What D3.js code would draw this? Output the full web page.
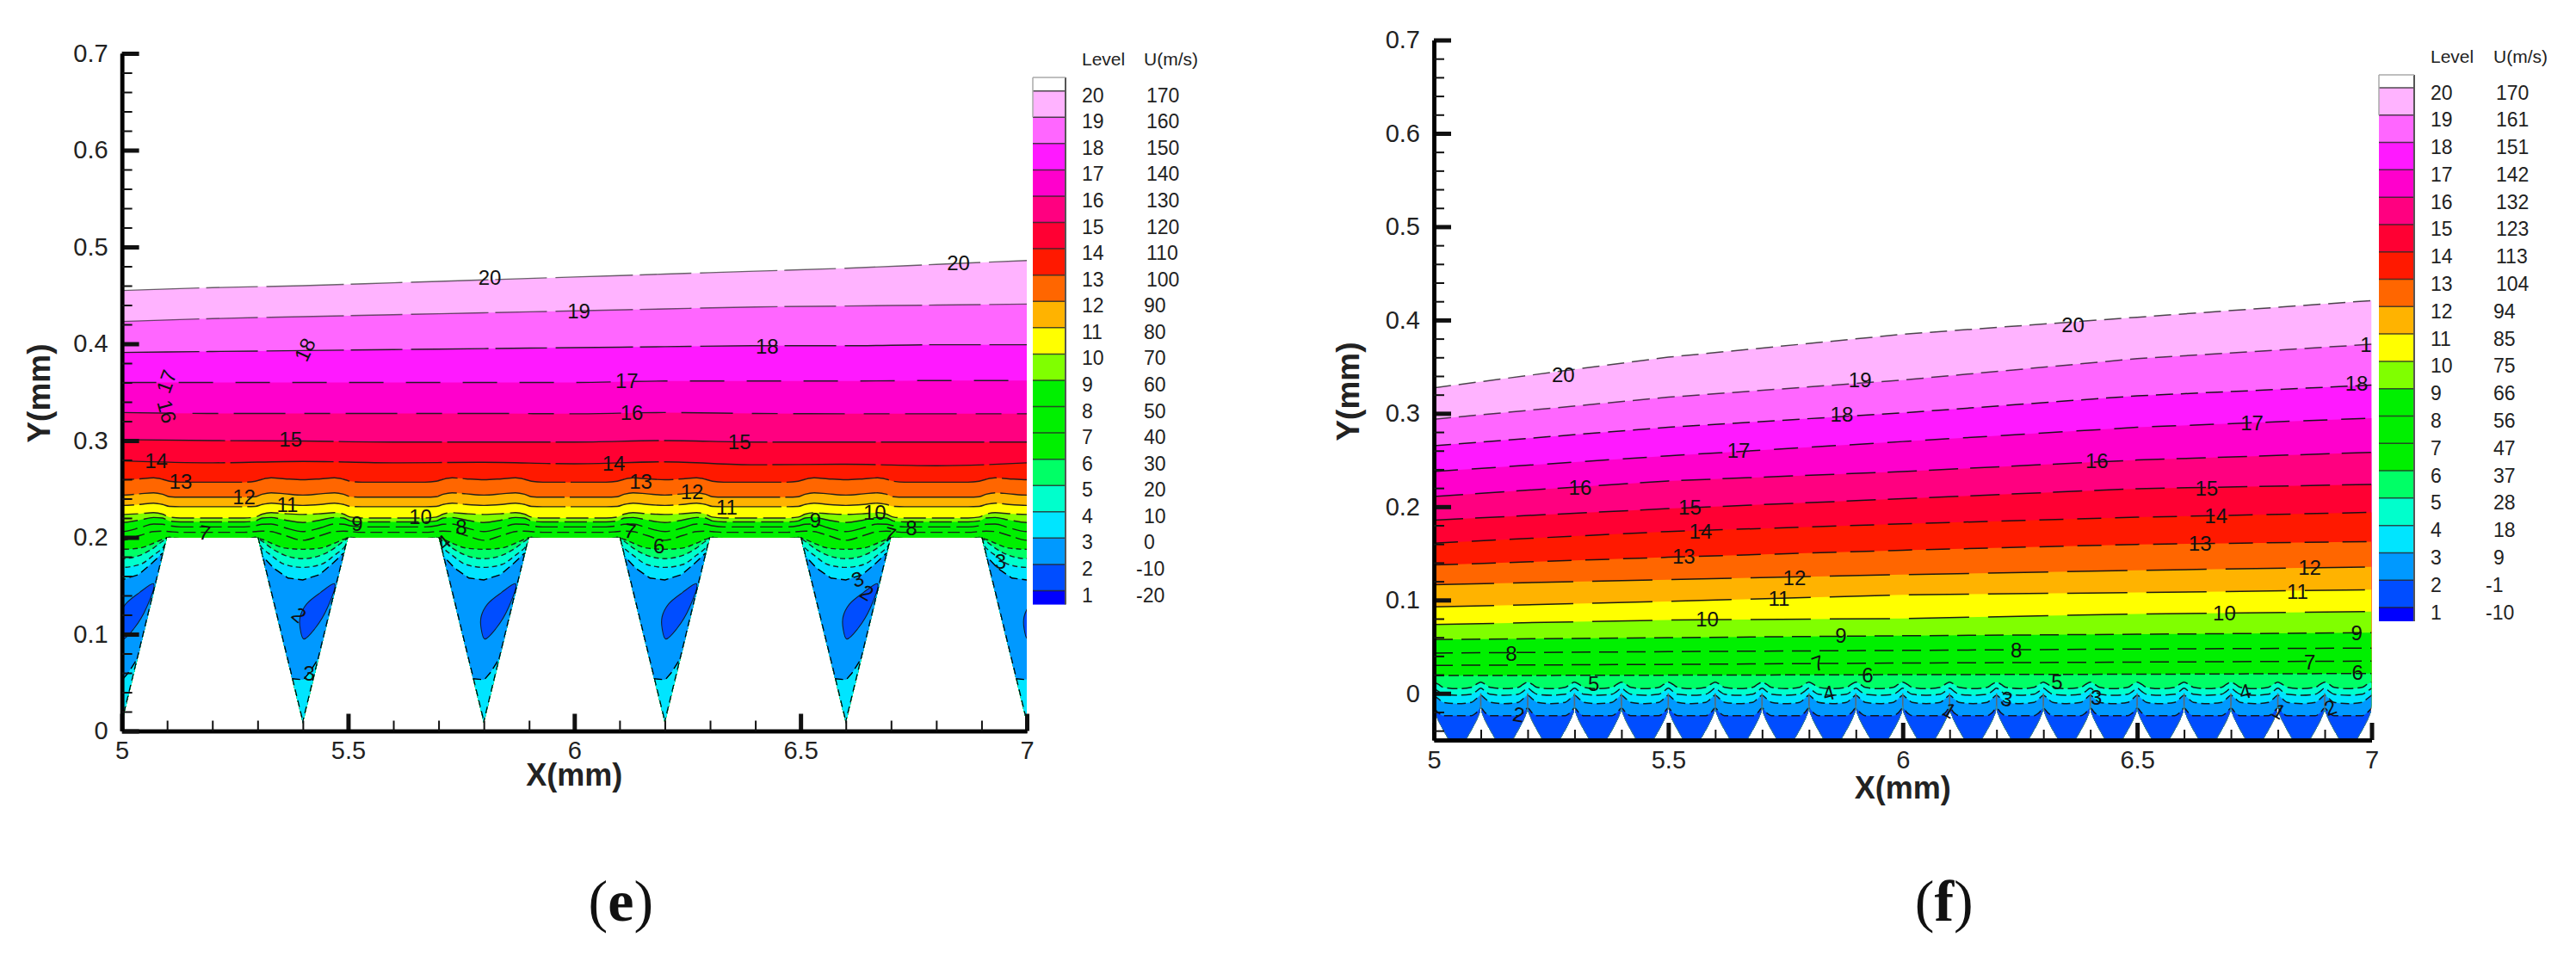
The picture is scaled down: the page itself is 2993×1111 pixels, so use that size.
<!DOCTYPE html>
<html>
<head>
<meta charset="utf-8">
<script src="https://cdn.jsdelivr.net/npm/d3@7"></script>
<style>
  body { margin: 0; background: #fff; }
  text { font-family: "Liberation Sans", Arial, sans-serif; }
</style>
</head>
<body>
<div id="chart_area"></div>
<script>
// contour levels, top of legend first
var levels = [20, 19, 18, 17, 16, 15, 14, 13, 12, 11, 10, 9, 8, 7, 6, 5, 4, 3, 2, 1];
var leftValues = [170, 160, 150, 140, 130, 120, 110, 100, 90, 80, 70, 60, 50, 40, 30, 20, 10, 0, -10, -20];
var rightValues = [170, 161, 151, 142, 132, 123, 113, 104, 94, 85, 75, 66, 56, 47, 37, 28, 18, 9, -1, -10];

// axis ticks
var xTicks = [5, 5.5, 6, 6.5, 7];
var xMinor = [5.1, 5.2, 5.3, 5.4, 5.6, 5.7, 5.8, 5.9, 6.1, 6.2, 6.3, 6.4, 6.6, 6.7, 6.8, 6.9];
var yTicks = [0, 0.1, 0.2, 0.3, 0.4, 0.5, 0.6, 0.7];
var yMinor = [0.02, 0.04, 0.06, 0.08, 0.12, 0.14, 0.16, 0.18, 0.22, 0.24, 0.26, 0.28, 0.32, 0.34, 0.36, 0.38,
    0.42, 0.44, 0.46, 0.48, 0.52, 0.54, 0.56, 0.58, 0.62, 0.64, 0.66, 0.68];
var yMinorBelow = [-0.02, -0.04];

// left panel (e): smooth upper contours, y(mm) read along leftUpperX
var leftUpperX = [5, 5.2, 5.4, 5.6, 5.8, 6, 6.2, 6.4, 6.6, 6.8, 7];
var leftLevel20 = [.455, .458, .460, .463, .466, .469, .472, .475, .478, .482, .486];
var leftLevel19 = [.423, .426, .428, .430, .432, .434, .436, .438, .439, .440, .441];
var leftLevel18 = [.391, .392, .393, .394, .395, .396, .397, .398, .398, .399, .399];
var leftLevel17 = [.360, .360, .360, .360, .360, .360, .3615, .3615, .3615, .362, .362];
var leftLevel16 = [.329, .328, .328, .328, .328, .3277, .329, .328, .3277, .3277, .3277];
var leftLevel15 = [.301, .300, .2995, .2985, .2985, .2985, .300, .2985, .2985, .2985, .2985];
var leftLevel14 = [.279, .277, .2785, .277, .2775, .276, .278, .275, .2755, .274, .277];

// left panel: contours that follow the grooves, y(mm) read against distance from groove centre
var grooveCentres = [5, 5.4, 5.8, 6.2, 6.6, 7];
var grooveDist = [0, .04, .07, .09, .105, .13, .2];
var leftLevel13 = [.2595, .2605, .2615, .260, .258, .257, .257];
var leftLevel12 = [.2437, .245, .246, .2445, .242, .2415, .2415];
var leftLevel11 = [.233, .234, .2354, .234, .232, .2317, .2317];
var leftLevel10 = [.2237, .2245, .2255, .224, .221, .220, .220];
var leftLevel9 = [.2154, .218, .2206, .220, .217, .216, .216];
var leftLevel8 = [.206, .210, .2138, .2135, .212, .2108, .2108];
var leftLevel7 = [.197, .202, .206, .2065, .206, .2052, .2052];
var leftLevel6 = [.1877, .189, .194, .198, .200, .199, .199];
var leftLevel5 = [.178, .1815, .189, .196, .200, .198, .198];
var leftLevel4 = [.169, .172, .1815, .189, .197, .197, .197];

// left panel: one groove, x is offset from its centre
var grooveWallX = [-0.1, 0, 0.1];
var grooveWallY = [.2, .008, .2];
var leftLevel3X = [-.13, -.091, -.064, -.033, 0, .037, .068, .088, .13, .13, .033, .014, .001, -.026, -.13];
var leftLevel3Y = [.19, .1815, .168, .158, .156, .1615, .174, .183, .19, .09, .074, .06, .053, .054, .06];
var leftLevel2X = [.07, .055, .027, .002, -.006, -.006, .008, .039];
var leftLevel2Y = [.152, .128, .106, .095, .106, .118, .131, .143];

// right panel (f): sloping contours, y(mm) read along rightUpperX
var rightUpperX = [5, 5.5, 6, 6.5, 7];
var rightLevel20 = [.3274, .3602, .3847, .403, .4208];
var rightLevel19 = [.2937, .3173, .3357, .3586, .374];
var rightLevel18 = [.2652, .2851, .3005, .3188, .3302];
var rightLevel17 = [.2377, .2545, .2698, .2851, .2949];
var rightLevel16 = [.211, .2276, .2377, .25, .2582];
var rightLevel15 = [.1856, .1979, .2086, .2193, .2239];
var rightLevel14 = [.161, .1734, .1816, .1887, .1939];
var rightLevel13 = [.1375, .1458, .1534, .1596, .1626];
var rightLevel12 = [.1164, .1218, .1272, .1318, .1355];
var rightLevel11 = [.0926, .0985, .1056, .108, .111];
var rightLevel10 = [.0738, .0785, .0802, .085, .0877];
var rightLevel9 = [.0577, .0597, .0617, .0633, .065];
var rightLevel8 = [.0432, .0447, .046, .0475, .0485];
var rightLevel7 = [.030, .031, .0325, .0335, .0346];
var rightLevel6 = [.019, .0195, .020, .0205, .0213];

// right panel: contours that follow the scallops
var scallopCentres = [5.05, 5.15, 5.25, 5.35, 5.45, 5.55, 5.65, 5.75, 5.85, 5.95,
    6.05, 6.15, 6.25, 6.35, 6.45, 6.55, 6.65, 6.75, 6.85, 6.95];
var scallopDist = [0, .03, .04, .05];
var rightLevel5 = [.005, .0065, .0095, .012];
var rightLevel4 = [-.002, -.001, .002, .0055];
var rightLevel3 = [-.011, -.0096, -.006, -.002];
var rightLevel2 = [-.024, -.024, -.021, -.016];
var scallopWallX = [-.05, -.05, -.0485, -.042, -.034, -.026, -.018, .018, .026, .034, .042, .0485, .05, .05];
var scallopWallY = [0, -.012, -.02, -.028, -.036, -.043, -.05, -.05, -.043, -.036, -.028, -.02, -.012, 0];

// contour labels: text, x(mm), y(mm), optional rotation
var leftLabels = [
    ["20", 5.813, .469], ["20", 6.849, .4836], ["19", 6.01, .434], ["18", 5.404, .394, -65], ["18", 6.426, .3975],
    ["17", 5.098, .361, -70], ["17", 6.116, .362], ["16", 5.1, .33, 75], ["16", 6.127, .329],
    ["15", 5.373, .3015], ["15", 6.365, .2985], ["14", 5.076, .279], ["14", 6.087, .2763],
    ["13", 5.13, .258], ["13", 6.147, .258], ["12", 5.27, .242], ["12", 6.26, .247],
    ["11", 5.366, .234], ["11", 6.337, .231], ["10", 5.66, .2215], ["10", 6.664, .2255],
    ["9", 5.52, .2145], ["9", 6.533, .2175], ["8", 5.75, .211], ["8", 6.745, .21],
    ["7", 5.183, .205, 10], ["7", 6.123, .2068, 10], ["7", 6.698, .203, 15], ["6", 6.187, .191],
    ["4", 5.711, .195, -40], ["3", 5.414, .06], ["3", 6.626, .157, -20], ["3", 6.942, .175],
    ["2", 5.392, .12, 40], ["2", 6.647, .143, 30]
];
var rightLabels = [
    ["20", 5.276, .3418], ["20", 6.363, .3954], ["19", 5.909, .3357], ["18", 5.87, .2989], ["18", 6.968, .3326],
    ["1", 6.988, .374], ["17", 5.65, .2606], ["17", 6.745, .2897], ["16", 5.312, .2208], ["16", 6.414, .249],
    ["15", 5.546, .1994], ["15", 6.648, .2202], ["14", 5.569, .1734], ["14", 6.668, .1902],
    ["13", 5.533, .1467], ["13", 6.634, .1605], ["12", 5.769, .1243], ["12", 6.868, .1351],
    ["11", 5.736, .1015], ["11", 6.842, .1093], ["10", 5.583, .0793], ["10", 6.686, .0861],
    ["9", 5.868, .0623], ["9", 6.968, .0648], ["8", 5.165, .0432], ["8", 6.242, .0463],
    ["7", 5.819, .0324, -20], ["7", 6.868, .0336], ["6", 5.925, .02], ["6", 6.97, .0222],
    ["5", 5.341, .0105], ["5", 6.329, .012], ["4", 5.842, .0006, -15], ["4", 6.73, .0022, -15],
    ["3", 6.222, -.0056, 10], ["3", 6.413, -.004], ["2", 5.181, -.0225, 10],
    ["1", 6.1, -.018, 30], ["1", 6.803, -.019, 30], ["2", 6.912, -.015, -20]
];

// flood colour of the band just below each level
var bandColor = d3.scaleOrdinal()
    .domain(levels)
    .range(["#ffb3ff", "#ff66ff", "#ff19ff", "#ff00cc", "#ff0080", "#ff0033", "#ff1900", "#ff6600", "#ffb300", "#ffff00",
        "#80ff00", "#00f000", "#00f000", "#00f000", "#00ff66", "#00ffcc", "#00e5ff", "#0099ff", "#004dff", "#0000ff"]);

var svg = d3.select("#chart_area")
    .append("svg")
    .attr("width", 2993)
    .attr("height", 1111);

// helpers: turn the read arrays into [x, y] point lists
function zipPoints(xs, ys) {
    return xs.map(function (x, i) { return [x, ys[i]]; });
}
// a half profile around every centre, mirrored
function periodic(centres, dist, ys) {
    var pts = [];
    centres.forEach(function (c) {
        for (var i = dist.length - 1; i > 0; i--) pts.push([c - dist[i], ys[i]]);
        for (var j = 0; j < dist.length; j++) pts.push([c + dist[j], ys[j]]);
    });
    return pts;
}

function drawAxes(g, x, y, belowTicks, cfg) {
    var h = y.range()[0];
    var style = function (sel, major) {
        sel.select(".domain").attr("stroke", "#000").attr("stroke-width", 4.5);
        sel.selectAll(".tick line").attr("stroke", "#111").attr("stroke-width", major ? 5 : 2);
        sel.selectAll("text").attr("font-size", 29).attr("fill", "#222");
    };
    var b = g.append("g").attr("transform", "translate(0," + h + ")");
    b.call(d3.axisBottom(x).tickValues(xTicks).tickSize(-20).tickSizeOuter(0).tickPadding(-4).tickFormat(function (d) { return d; }))
        .call(style, true);
    b.selectAll(".tick text").attr("y", 12).attr("dy", "0.71em");
    var bm = g.append("g").attr("transform", "translate(0," + h + ")");
    bm.call(d3.axisBottom(x).tickValues(xMinor).tickSize(-12).tickSizeOuter(0).tickFormat(""))
        .call(style, false);
    var l = g.append("g").attr("transform", "translate(" + x(5) + ",0)");
    l.call(d3.axisLeft(y).tickValues(yTicks).tickSize(-20).tickSizeOuter(0).tickPadding(16).tickFormat(function (d) { return d; }))
        .call(style, true);
    var lm = g.append("g").attr("transform", "translate(" + x(5) + ",0)");
    lm.call(d3.axisLeft(y).tickValues(yMinor.concat(belowTicks)).tickSize(-12).tickSizeOuter(0).tickFormat(""))
        .call(style, false);
    g.append("text").attr("x", x(6)).attr("y", cfg.xTitleY)
        .attr("text-anchor", "middle").attr("font-size", 36).attr("font-weight", "bold").attr("fill", "#222")
        .text("X(mm)");
    g.append("text")
        .attr("transform", "translate(" + cfg.yTitleX + "," + cfg.yTitleY + ")rotate(-90)")
        .attr("text-anchor", "middle").attr("font-size", 37).attr("font-weight", "bold").attr("fill", "#222")
        .text("Y(mm)");
}

function drawLegend(g, yLeg, cfg, values) {
    // white cap above level 20, then one band per level
    g.append("rect").attr("x", cfg.x0).attr("width", cfg.x1 - cfg.x0)
        .attr("y", cfg.top).attr("height", yLeg(20) - cfg.top).attr("fill", "#fff");
    g.selectAll("rect.band").data(levels).enter().append("rect")
        .attr("class", "band")
        .attr("x", cfg.x0).attr("width", cfg.x1 - cfg.x0)
        .attr("y", function (d) { return yLeg(d); })
        .attr("height", function (d) { return (d === 1 ? cfg.bottom : yLeg(d - 1)) - yLeg(d); })
        .attr("fill", function (d) { return bandColor(d); });
    g.selectAll("line.lev").data(levels).enter().append("line")
        .attr("class", "lev")
        .attr("x1", cfg.x0).attr("x2", cfg.x1)
        .attr("y1", function (d) { return yLeg(d); })
        .attr("y2", function (d) { return yLeg(d); })
        .attr("stroke", "#222")
        .attr("stroke-opacity", 0.8)
        .attr("stroke-width", 1.5);
    g.append("line").attr("x1", cfg.x1).attr("x2", cfg.x1).attr("y1", cfg.top).attr("y2", cfg.bottom)
        .attr("stroke", "#555").attr("stroke-width", 2);
    g.append("line").attr("x1", cfg.x0).attr("x2", cfg.x0).attr("y1", cfg.top).attr("y2", yLeg(19))
        .attr("stroke", "#aaa").attr("stroke-width", 1.5);
    g.append("line").attr("x1", cfg.x0).attr("x2", cfg.x1).attr("y1", cfg.top).attr("y2", cfg.top)
        .attr("stroke", "#aaa").attr("stroke-width", 1.5);

    g.append("text").attr("x", cfg.textX).attr("y", cfg.headY).attr("font-size", 21).attr("fill", "#222").text("Level");
    g.append("text").attr("x", cfg.valX).attr("y", cfg.headY).attr("font-size", 21).attr("fill", "#222").text("U(m/s)");

    g.selectAll("text.lev").data(levels).enter().append("text")
        .attr("class", "lev")
        .attr("x", cfg.textX)
        .attr("y", function (d) { return yLeg(d) + cfg.textShift; })
        .attr("font-size", 23).attr("fill", "#222")
        .text(function (d) { return d; });
    g.selectAll("text.val").data(values).enter().append("text")
        .attr("class", "val")
        .attr("x", function (d) { return cfg.valX + (d < 0 ? cfg.negShift : (d >= 100 ? 3 : 0)); })
        .attr("y", function (d, i) { return yLeg(levels[i]) + cfg.textShift; })
        .attr("font-size", 23).attr("fill", "#222")
        .text(function (d) { return d; });
}

function drawContourLabels(g, x, y, labels) {
    g.selectAll("text.clab").data(labels).enter().append("text")
        .attr("class", "clab")
        .attr("transform", function (d) {
            return "translate(" + x(d[1]) + "," + y(d[2]) + ")rotate(" + (d[3] || 0) + ")";
        })
        .attr("text-anchor", "middle")
        .attr("dy", "0.36em")
        .attr("font-size", 24)
        .attr("fill", "#111")
        .text(function (d) { return d[0]; });
}

// left panel -------------------------------------------------------------
function drawLeft() {
    var g = svg.append("g");
    var x = d3.scaleLinear().domain([5, 7]).range([141.6, 1193]);
    var y = d3.scaleLinear().domain([0, 0.7]).range([849.5, 62]);
    var line = d3.line().x(function (d) { return x(d[0]); }).y(function (d) { return y(d[1]); });
    var curve = line.curve(d3.curveMonotoneX);
    var area = d3.area().x(function (d) { return x(d[0]); }).y0(y(-0.05)).y1(function (d) { return y(d[1]); }).curve(d3.curveMonotoneX);

    // fluid region: everything above the toothed wall
    var wall = [];
    grooveCentres.forEach(function (c) {
        zipPoints(grooveWallX, grooveWallY).forEach(function (p) {
            var px = c + p[0];
            if (px >= 5 && px <= 7) wall.push([px, p[1]]);
        });
    });
    var clipPts = wall.concat([[7, 0.7], [5, 0.7]]);
    svg.append("clipPath").attr("id", "clipLeft").append("path")
        .attr("d", d3.line().x(function (d) { return x(d[0]); }).y(function (d) { return y(d[1]); })(clipPts) + "Z");

    var body = g.append("g").attr("clip-path", "url(#clipLeft)");
    var upper = [leftLevel20, leftLevel19, leftLevel18, leftLevel17, leftLevel16, leftLevel15, leftLevel14]
        .map(function (ys) { return zipPoints(leftUpperX, ys); });
    var lower = [leftLevel13, leftLevel12, leftLevel11, leftLevel10, leftLevel9, leftLevel8, leftLevel7, leftLevel6, leftLevel5, leftLevel4]
        .map(function (ys) { return periodic(grooveCentres, grooveDist, ys); });
    var contours = upper.concat(lower);

    // painter's order, highest level first
    body.selectAll("path.band").data(contours).enter().append("path")
        .attr("class", "band")
        .attr("d", function (d) { return area(d); })
        .attr("fill", function (d, i) { return bandColor(levels[i]); });

    var dashFor = function (i) {
        var lev = levels[i];
        if (lev >= 18) return "90 8 60 10";
        if (lev === 17) return "40 26";
        if (lev === 16) return "60 22 30 18";
        if (lev >= 11) return "120 6";
        if (lev >= 8) return "26 7";
        if (lev === 7) return "14 6";
        return "6 4";
    };
    // level 3 closed patch and level 2 island sit inside each groove
    var closedLine = d3.line().x(function (d) { return x(d[0]); }).y(function (d) { return y(d[1]); });
    var level3 = zipPoints(leftLevel3X, leftLevel3Y);
    var level2 = zipPoints(leftLevel2X, leftLevel2Y);
    grooveCentres.forEach(function (c) {
        body.append("path")
            .attr("d", closedLine.curve(d3.curveLinearClosed)(level3.map(function (p) { return [c + p[0], p[1]]; })))
            .attr("fill", bandColor(3)).attr("stroke", "#000").attr("stroke-width", 1.4).attr("stroke-dasharray", "10 5");
        body.append("path")
            .attr("d", closedLine.curve(d3.curveCatmullRomClosed)(level2.map(function (p) { return [c + p[0], p[1]]; })))
            .attr("fill", bandColor(2)).attr("stroke", "#123").attr("stroke-width", 1.1);
    });

    body.selectAll("path.cont").data(contours).enter().append("path")
        .attr("class", "cont")
        .attr("d", function (d) { return curve(d); })
        .attr("fill", "none")
        .attr("stroke", "#1a1a1a")
        .attr("stroke-width", 1.4)
        .attr("stroke-opacity", function (d, i) { return levels[i] >= 19 ? 0.65 : 0.95; })
        .attr("stroke-dasharray", function (d, i) { return dashFor(i); });

    // dashed outline of the grooves
    var wallLine = d3.line().x(function (d) { return x(d[0]); }).y(function (d) { return y(d[1]); });
    grooveCentres.forEach(function (c) {
        body.append("path")
            .attr("d", wallLine(zipPoints(grooveWallX, grooveWallY).map(function (p) { return [c + p[0], p[1]]; })))
            .attr("fill", "none").attr("stroke", "#000").attr("stroke-width", 2.4).attr("stroke-dasharray", "8 5");
    });

    drawContourLabels(g, x, y, leftLabels);
    drawAxes(g, x, y, [], { xTitleY: 913, yTitleX: 58, yTitleY: 457 });

    var yLeg = d3.scaleLinear().domain([20, 1]).range([105.7, 686.5]);
    drawLegend(g, yLeg, { x0: 1200, x1: 1238, top: 90, bottom: 702.6, textX: 1257, valX: 1329, textShift: 13, negShift: -9, headY: 76 }, leftValues);

    g.append("text").attr("x", x(6) + 54).attr("y", 1070).attr("text-anchor", "middle")
        .attr("font-size", 68).style("font-family", "'Liberation Serif', serif").attr("fill", "#111")
        .html('(<tspan font-weight="bold">e</tspan>)');
}

// right panel ------------------------------------------------------------
function drawRight() {
    var g = svg.append("g");
    var x = d3.scaleLinear().domain([5, 7]).range([1666, 2755.5]);
    var y = d3.scaleLinear().domain([-0.05, 0.7]).range([860, 46.5]);
    var line = d3.line().x(function (d) { return x(d[0]); }).y(function (d) { return y(d[1]); });
    var curve = line.curve(d3.curveMonotoneX);
    var area = d3.area().x(function (d) { return x(d[0]); }).y0(y(-0.06)).y1(function (d) { return y(d[1]); }).curve(d3.curveMonotoneX);

    var wall = [];
    var scallopWall = zipPoints(scallopWallX, scallopWallY);
    scallopCentres.forEach(function (c) {
        scallopWall.forEach(function (p) { wall.push([c + p[0], p[1]]); });
    });
    svg.append("clipPath").attr("id", "clipRight").append("path")
        .attr("d", d3.line().x(function (d) { return x(d[0]); }).y(function (d) { return y(d[1]); })(wall.concat([[7, 0.7], [5, 0.7]])) + "Z");

    var body = g.append("g").attr("clip-path", "url(#clipRight)");
    var upper = [rightLevel20, rightLevel19, rightLevel18, rightLevel17, rightLevel16, rightLevel15, rightLevel14, rightLevel13,
        rightLevel12, rightLevel11, rightLevel10, rightLevel9, rightLevel8, rightLevel7, rightLevel6]
        .map(function (ys) { return zipPoints(rightUpperX, ys); });
    var lower = [rightLevel5, rightLevel4, rightLevel3, rightLevel2]
        .map(function (ys) { return periodic(scallopCentres, scallopDist, ys); });
    var contours = upper.concat(lower);

    // straight segments for the long sloping contours, they are nearly straight in the figure
    var straight = d3.line().x(function (d) { return x(d[0]); }).y(function (d) { return y(d[1]); });
    var areaStraight = d3.area().x(function (d) { return x(d[0]); }).y0(y(-0.06)).y1(function (d) { return y(d[1]); });

    body.selectAll("path.band").data(contours).enter().append("path")
        .attr("class", "band")
        .attr("d", function (d, i) { return i < upper.length ? areaStraight(d) : area(d); })
        .attr("fill", function (d, i) { return bandColor(levels[i]); });

    var dashFor = function (i) {
        var lev = levels[i];
        if (lev >= 18) return "20 9";
        if (lev === 17 || lev === 14 || lev === 13) return "28 16";
        if (lev === 16 || lev === 15) return "34 14";
        if (lev >= 10) return "70 22";
        if (lev >= 7) return "22 10";
        if (lev >= 4) return "12 5";
        return "10 5";
    };
    body.selectAll("path.cont").data(contours).enter().append("path")
        .attr("class", "cont")
        .attr("d", function (d, i) { return i < upper.length ? straight(d) : curve(d); })
        .attr("fill", "none")
        .attr("stroke", "#111")
        .attr("stroke-width", 1.5)
        .attr("stroke-opacity", function (d, i) { return levels[i] >= 19 ? 0.75 : 0.95; })
        .attr("stroke-dasharray", function (d, i) { return dashFor(i); });

    var wallLine = d3.line().x(function (d) { return x(d[0]); }).y(function (d) { return y(d[1]); });
    scallopCentres.forEach(function (c) {
        body.append("path")
            .attr("d", wallLine(scallopWall.map(function (p) { return [c + p[0], p[1]]; })))
            .attr("fill", "none").attr("stroke", "#666").attr("stroke-width", 1.4).attr("stroke-opacity", 0.7);
    });

    drawContourLabels(g, x, y, rightLabels);
    drawAxes(g, x, y, yMinorBelow, { xTitleY: 928, yTitleX: 1579, yTitleY: 455 });

    var yLeg = d3.scaleLinear().domain([20, 1]).range([102, 706]);
    drawLegend(g, yLeg, { x0: 2764, x1: 2805, top: 87, bottom: 722, textX: 2824, valX: 2897, textShift: 13.5, negShift: -9, headY: 73 }, rightValues);

    g.append("text").attr("x", x(6) + 48).attr("y", 1070).attr("text-anchor", "middle")
        .attr("font-size", 68).style("font-family", "'Liberation Serif', serif").attr("fill", "#111")
        .html('(<tspan font-weight="bold">f</tspan>)');
}

drawLeft();
drawRight();
</script>
</body>
</html>
